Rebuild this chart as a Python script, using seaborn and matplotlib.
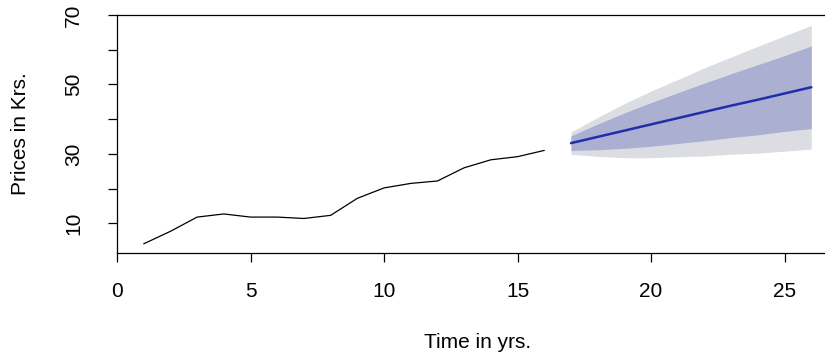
import numpy as np
import pandas as pd
import matplotlib
matplotlib.use("Agg")
import matplotlib.pyplot as plt
import seaborn as sns

# observed prices, years 1..16
years = list(range(1, 17))
prices = [4.1, 7.7, 11.8, 12.7, 11.8, 11.8, 11.4, 12.3, 17.2, 20.2, 21.5, 22.2, 26.0, 28.3, 29.2, 31.0]

# forecast, years 17..26
fc_years = list(range(17, 27))
fc_mean = [33.1, 34.9, 36.7, 38.5, 40.3, 42.1, 43.9, 45.6, 47.4, 49.2]
lo80 = [31.0, 31.2, 31.6, 32.2, 33.0, 33.8, 34.7, 35.5, 36.5, 37.3]
hi80 = [35.2, 38.6, 41.8, 44.8, 47.6, 50.4, 53.1, 55.7, 58.3, 61.1]
lo95 = [29.9, 29.3, 28.9, 28.9, 29.2, 29.4, 29.9, 30.2, 30.8, 31.4]
hi95 = [36.3, 40.5, 44.5, 48.1, 51.4, 54.8, 57.9, 61.0, 64.0, 67.0]

hist = pd.DataFrame({"year": years, "price": prices})
fc = pd.DataFrame({"year": fc_years, "mean": fc_mean,
                   "lo80": lo80, "hi80": hi80, "lo95": lo95, "hi95": hi95})

sns.set_style("ticks")
plt.rcParams["font.family"] = ["Liberation Sans", "DejaVu Sans"]

fig = plt.figure(figsize=(8.25, 3.57), dpi=100)
# right edge of the box lies outside the picture, as in the reference
ax = fig.add_axes([117 / 825, 104.5 / 357, 721 / 825, 237.5 / 357])

ax.fill_between(fc["year"], fc["lo95"], fc["hi95"], color="#DCDCE3", lw=0)
ax.fill_between(fc["year"], fc["lo80"], fc["hi80"], color="#ABB0D2", lw=0)
sns.lineplot(data=hist, x="year", y="price", color="black", lw=0.9, ax=ax)
sns.lineplot(data=fc, x="year", y="mean", color="#1F2FA8", lw=1.8, ax=ax)

ax.set_xlim(0, 27)
ax.set_ylim(1.6, 70)
ax.set_xticks([0, 5, 10, 15, 20, 25])
ax.set_yticks([10, 20, 30, 40, 50, 60, 70])
ax.set_yticklabels(["10", "", "30", "", "50", "", "70"], rotation=90, va="center")

for s in ax.spines.values():
    s.set_visible(True)
    s.set_color("black")
    s.set_linewidth(0.9)

ax.tick_params(axis="both", direction="out", length=6.5, width=0.9,
               labelsize=15, colors="black")
ax.tick_params(axis="x", pad=15)
ax.tick_params(axis="y", pad=18)

ax.set_xlabel("Time in yrs.", fontsize=15, va="center", color="black")
ax.set_ylabel("Prices in Krs.", fontsize=15, va="center", color="black")
ax.xaxis.set_label_coords(0.5, -(343 - 252.5) / 237.5)
ax.yaxis.set_label_coords((20 - 117) / 721, 0.5)

fig.savefig("out.png", dpi=100)
